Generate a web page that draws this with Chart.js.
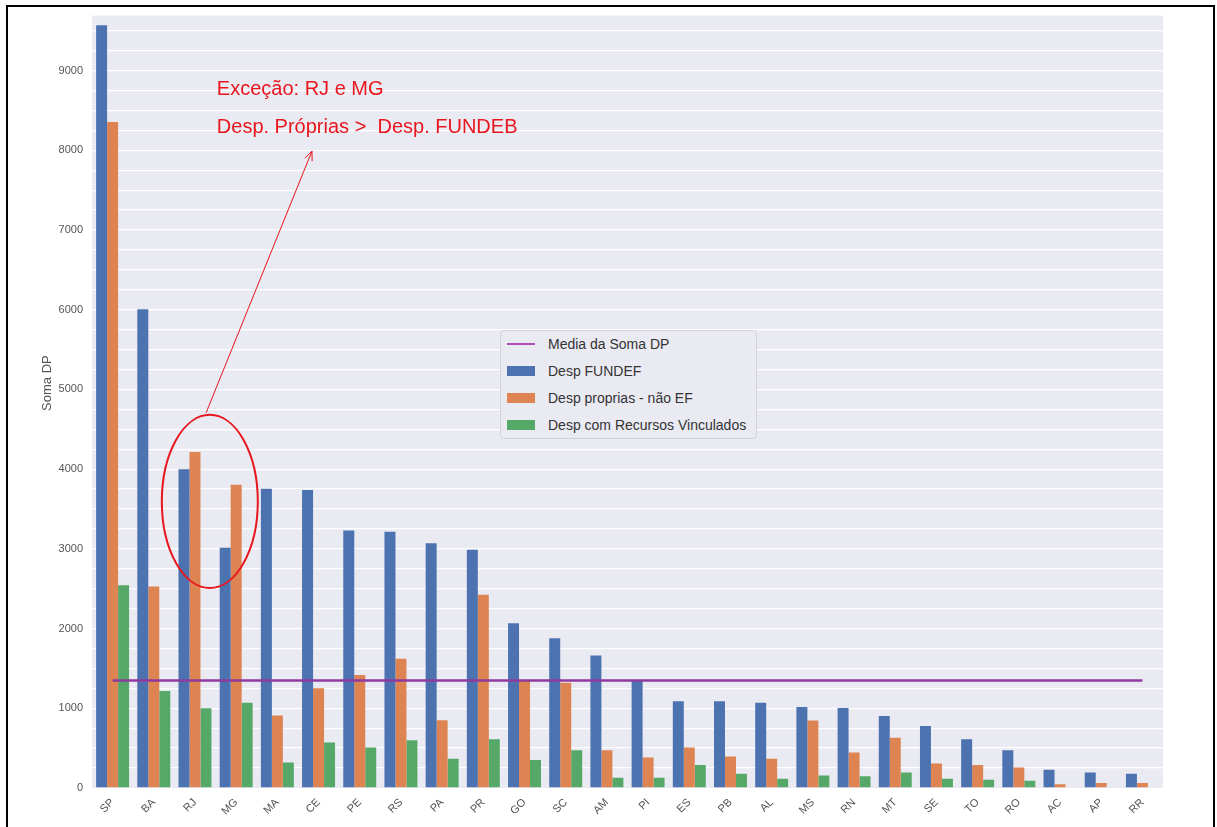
<!DOCTYPE html>
<html>
<head>
<meta charset="utf-8">
<script src="https://cdn.jsdelivr.net/npm/chart.js@4.4.1/dist/chart.umd.min.js"></script>
<style>
    body { margin: 0; background: #fff; }
    #wrap { position: relative; width: 1217px; height: 827px; overflow: hidden; }
    #frame { position: absolute; left: 6px; top: 5px; width: 1205px; height: 900px; border: 2px solid #000; }
    #chart { position: absolute; left: 0; top: 0; }
    #legend {
        position: absolute; left: 500px; top: 330px; width: 255px; height: 107px;
        background: #eaeaf2; border: 1px solid #d2d2da; border-radius: 4px;
        font-family: "Liberation Sans", Arial, sans-serif; font-size: 14px; color: #333;
    }
    #legend .row { position: absolute; left: 6px; height: 20px; line-height: 20px; }
    #legend .sw { position: absolute; left: 0; width: 28px; }
    #legend .lbl { position: absolute; left: 41px; white-space: nowrap; }
</style>
</head>
<body>
<div id="wrap">
    <div id="frame"></div>
    <canvas id="chart" width="1217" height="827"></canvas>
    <div id="legend"></div>
</div>
<script>
const states = ['SP', 'BA', 'RJ', 'MG', 'MA', 'CE', 'PE', 'RS', 'PA', 'PR', 'GO', 'SC', 'AM',
    'PI', 'ES', 'PB', 'AL', 'MS', 'RN', 'MT', 'SE', 'TO', 'RO', 'AC', 'AP', 'RR'];
const despFundef = [9570, 6005, 4000, 3015, 3755, 3740, 3230, 3215, 3070, 2988, 2067, 1879, 1662,
    1354, 1087, 1087, 1071, 1017, 1004, 904, 779, 612, 475, 229, 196, 179];
const despProprias = [8355, 2529, 4216, 3804, 908, 1250, 1417, 1621, 850, 2425, 1354, 1321, 475,
    383, 508, 396, 367, 846, 446, 629, 308, 287, 258, 46, 62, 62];
const despVinculados = [2542, 1217, 1000, 1071, 321, 571, 508, 600, 367, 612, 350, 475, 129,
    129, 287, 179, 117, 158, 146, 196, 117, 104, 92, 0, 0, 0];
const mediaSomaDP = 1350;
const mediaFrom = 'SP';
const mediaTo = 'RR';
const yMax = 9690;
const yStep = 250;
const yLabelStep = 1000;

const seriesNames = ['Media da Soma DP', 'Desp FUNDEF', 'Desp proprias - não EF', 'Desp com Recursos Vinculados'];
const seriesColors = ['#b44cb4', '#4c72b0', '#dd8452', '#55a868'];

// red annotation, positions in axis units (category index, value)
const note = {
    lines: ['Exceção: RJ e MG', 'Desp. Próprias >  Desp. FUNDEB'],
    textX: 2.53, textY: [8690, 8215],
    ellipseX: 2.36, ellipseY: 3595, ellipseRX: 1.165, ellipseRY: 1086,
    arrowFrom: [2.27, 4707], arrowTo: [4.84, 7990]
};

const plotBackground = {
    id: 'plotBackground',
    beforeDraw(chart) {
        const { ctx, chartArea: a } = chart;
        ctx.save();
        ctx.fillStyle = '#eaeaf2';
        ctx.fillRect(a.left, a.top, a.right - a.left, a.bottom - a.top);
        ctx.restore();
    }
};

const extras = {
    id: 'extras',
    afterDraw(chart) {
        const { ctx, chartArea: a } = chart;
        const xs = chart.scales.x, ys = chart.scales.y;
        ctx.save();

        // y axis title
        ctx.translate(a.left - 45, ys.getPixelForValue(5080));
        ctx.rotate(-Math.PI / 2);
        ctx.fillStyle = '#555';
        ctx.font = '13px "Liberation Sans", Arial, sans-serif';
        ctx.textAlign = 'center';
        ctx.textBaseline = 'middle';
        ctx.fillText('Soma DP', 0, 0);
        ctx.setTransform(1, 0, 0, 1, 0, 0);

        const red = '#e8161e';
        ctx.fillStyle = red;
        ctx.font = '20px "Liberation Sans", Arial, sans-serif';
        ctx.textAlign = 'left';
        ctx.textBaseline = 'alphabetic';
        note.lines.forEach((t, i) => {
            ctx.fillText(t, xs.getPixelForValue(note.textX), ys.getPixelForValue(note.textY[i]));
        });

        const cx = xs.getPixelForValue(note.ellipseX);
        const cy = ys.getPixelForValue(note.ellipseY);
        const rx = xs.getPixelForValue(note.ellipseX + note.ellipseRX) - cx;
        const ry = cy - ys.getPixelForValue(note.ellipseY + note.ellipseRY);
        ctx.strokeStyle = red;
        ctx.lineWidth = 2;
        ctx.beginPath();
        ctx.ellipse(cx, cy, rx, ry, 0, 0, Math.PI * 2);
        ctx.stroke();

        const x1 = xs.getPixelForValue(note.arrowFrom[0]), y1 = ys.getPixelForValue(note.arrowFrom[1]);
        const x2 = xs.getPixelForValue(note.arrowTo[0]), y2 = ys.getPixelForValue(note.arrowTo[1]);
        const ang = Math.atan2(y2 - y1, x2 - x1);
        ctx.lineWidth = 1;
        ctx.beginPath();
        ctx.moveTo(x1, y1);
        ctx.lineTo(x2, y2);
        ctx.moveTo(x2 - 10 * Math.cos(ang - 0.4), y2 - 10 * Math.sin(ang - 0.4));
        ctx.lineTo(x2, y2);
        ctx.lineTo(x2 - 10 * Math.cos(ang + 0.4), y2 - 10 * Math.sin(ang + 0.4));
        ctx.stroke();
        ctx.restore();
    }
};

function barSet(label, data, color) {
    return {
        type: 'bar',
        label: label,
        data: data,
        backgroundColor: color,
        borderWidth: 0,
        categoryPercentage: 0.8,
        barPercentage: 1.0,
        order: 1
    };
}

const yGridTicks = [];
for (let v = 0; v <= yMax; v += yStep) yGridTicks.push(v);

const ctx = document.getElementById('chart').getContext('2d');
new Chart(ctx, {
    type: 'bar',
    data: {
        labels: states,
        datasets: [
            {
                type: 'line',
                label: seriesNames[0],
                data: [{ x: mediaFrom, y: mediaSomaDP }, { x: mediaTo, y: mediaSomaDP }],
                borderColor: '#8e3a9e',
                borderWidth: 2.5,
                pointRadius: 0,
                order: 0
            },
            barSet(seriesNames[1], despFundef, seriesColors[1]),
            barSet(seriesNames[2], despProprias, seriesColors[2]),
            barSet(seriesNames[3], despVinculados, seriesColors[3])
        ]
    },
    options: {
        responsive: false,
        animation: false,
        devicePixelRatio: 1,
        layout: { padding: { left: 0, top: 12, right: 54, bottom: 0 } },
        plugins: {
            legend: { display: false },
            tooltip: { enabled: false }
        },
        scales: {
            x: {
                type: 'category',
                offset: true,
                grid: { display: false, drawTicks: false },
                border: { display: false },
                ticks: {
                    color: '#555',
                    font: { family: '"Liberation Sans", Arial, sans-serif', size: 11 },
                    minRotation: 45,
                    maxRotation: 45,
                    padding: 8
                },
                afterFit(s) { s.height = 39; }
            },
            y: {
                min: 0,
                max: yMax,
                border: { display: false },
                afterBuildTicks(s) { s.ticks = yGridTicks.map(v => ({ value: v })); },
                grid: {
                    drawTicks: false,
                    lineWidth: 1.3,
                    color: c => (c.tick && c.tick.value > 0) ? '#ffffff' : 'rgba(0,0,0,0)'
                },
                ticks: {
                    autoSkip: false,
                    padding: 9,
                    color: '#555',
                    font: { family: '"Liberation Sans", Arial, sans-serif', size: 11 },
                    callback: v => (v % yLabelStep === 0 ? v : '')
                },
                afterFit(s) { s.width = 92; }
            }
        }
    },
    plugins: [plotBackground, extras]
});

// legend box inside the plot
const legend = document.getElementById('legend');
const rowTops = [3, 30, 57, 84];
seriesNames.forEach((name, i) => {
    const row = document.createElement('div');
    row.className = 'row';
    row.style.top = rowTops[i] + 'px';
    const sw = document.createElement('div');
    sw.className = 'sw';
    sw.style.top = i === 0 ? '9px' : '5px';
    sw.style.height = i === 0 ? '2px' : '10px';
    sw.style.background = seriesColors[i];
    const lbl = document.createElement('div');
    lbl.className = 'lbl';
    lbl.textContent = name;
    row.appendChild(sw);
    row.appendChild(lbl);
    legend.appendChild(row);
});
</script>
</body>
</html>
